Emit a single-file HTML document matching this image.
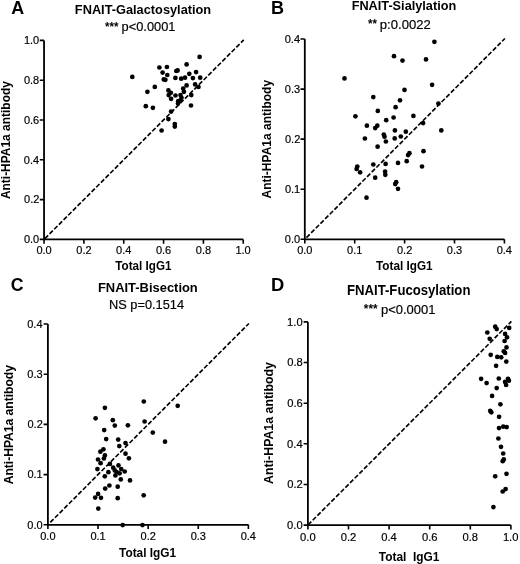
<!DOCTYPE html>
<html><head><meta charset="utf-8"><style>
html,body{margin:0;padding:0;background:#fff;}
svg{display:block;filter:grayscale(1);}
text{font-family:"Liberation Sans", sans-serif;fill:#000;}
text[font-weight="normal"]{stroke:#000;stroke-width:0.18px;}
</style></head><body>
<svg width="520" height="564" viewBox="0 0 520 564">
<rect width="520" height="564" fill="#fff"/>
<path d="M44.05,40.40 V239.40 H243.25" fill="none" stroke="#000" stroke-width="1.8"/>
<path d="M44.05,239.40 v4.3 M44.05,239.40 h-4.3 M83.89,239.40 v4.3 M44.05,199.60 h-4.3 M123.73,239.40 v4.3 M44.05,159.80 h-4.3 M163.57,239.40 v4.3 M44.05,120.00 h-4.3 M203.41,239.40 v4.3 M44.05,80.20 h-4.3 M243.25,239.40 v4.3 M44.05,40.40 h-4.3" fill="none" stroke="#000" stroke-width="1.6"/>
<line x1="243.75" y1="39.90" x2="44.05" y2="239.40" stroke="#000" stroke-width="1.65" stroke-dasharray="4.6 2.0" stroke-dashoffset="0.71"/>
<text x="23.89" y="243.25" font-size="11.00" font-weight="normal">0.0</text>
<text x="36.38" y="254.30" font-size="11.00" font-weight="normal">0.0</text>
<text x="24.06" y="203.45" font-size="11.00" font-weight="normal">0.2</text>
<text x="76.30" y="254.30" font-size="11.00" font-weight="normal">0.2</text>
<text x="23.84" y="163.65" font-size="11.00" font-weight="normal">0.4</text>
<text x="116.03" y="254.30" font-size="11.00" font-weight="normal">0.4</text>
<text x="23.95" y="123.85" font-size="11.00" font-weight="normal">0.6</text>
<text x="155.92" y="254.30" font-size="11.00" font-weight="normal">0.6</text>
<text x="23.95" y="84.05" font-size="11.00" font-weight="normal">0.8</text>
<text x="195.77" y="254.30" font-size="11.00" font-weight="normal">0.8</text>
<text x="23.89" y="44.25" font-size="11.00" font-weight="normal">1.0</text>
<text x="235.38" y="254.30" font-size="11.00" font-weight="normal">1.0</text>
<circle cx="132.3" cy="76.9" r="2.35"/>
<circle cx="159.4" cy="67.5" r="2.35"/>
<circle cx="166.9" cy="67.0" r="2.35"/>
<circle cx="162.6" cy="72.6" r="2.35"/>
<circle cx="167.3" cy="75.0" r="2.35"/>
<circle cx="163.8" cy="79.4" r="2.35"/>
<circle cx="165.4" cy="79.8" r="2.35"/>
<circle cx="154.8" cy="86.9" r="2.35"/>
<circle cx="147.4" cy="91.8" r="2.35"/>
<circle cx="199.6" cy="56.9" r="2.35"/>
<circle cx="186.6" cy="64.4" r="2.35"/>
<circle cx="176.3" cy="71.0" r="2.35"/>
<circle cx="177.6" cy="70.4" r="2.35"/>
<circle cx="196.1" cy="72.1" r="2.35"/>
<circle cx="189.3" cy="73.8" r="2.35"/>
<circle cx="175.4" cy="77.9" r="2.35"/>
<circle cx="181.2" cy="78.7" r="2.35"/>
<circle cx="185.0" cy="77.7" r="2.35"/>
<circle cx="192.9" cy="78.1" r="2.35"/>
<circle cx="200.2" cy="77.7" r="2.35"/>
<circle cx="186.6" cy="85.4" r="2.35"/>
<circle cx="195.1" cy="84.4" r="2.35"/>
<circle cx="198.5" cy="87.0" r="2.35"/>
<circle cx="183.2" cy="88.6" r="2.35"/>
<circle cx="183.9" cy="91.8" r="2.35"/>
<circle cx="168.4" cy="90.4" r="2.35"/>
<circle cx="170.8" cy="92.8" r="2.35"/>
<circle cx="168.7" cy="95.1" r="2.35"/>
<circle cx="175.5" cy="95.5" r="2.35"/>
<circle cx="180.5" cy="95.1" r="2.35"/>
<circle cx="181.5" cy="97.8" r="2.35"/>
<circle cx="171.1" cy="98.8" r="2.35"/>
<circle cx="178.2" cy="101.2" r="2.35"/>
<circle cx="180.5" cy="100.3" r="2.35"/>
<circle cx="178.0" cy="103.5" r="2.35"/>
<circle cx="191.3" cy="95.1" r="2.35"/>
<circle cx="191.0" cy="105.5" r="2.35"/>
<circle cx="171.1" cy="111.6" r="2.35"/>
<circle cx="168.4" cy="119.1" r="2.35"/>
<circle cx="174.8" cy="124.0" r="2.35"/>
<circle cx="174.8" cy="126.6" r="2.35"/>
<circle cx="161.6" cy="130.5" r="2.35"/>
<circle cx="145.8" cy="106.2" r="2.35"/>
<circle cx="152.9" cy="107.8" r="2.35"/>
<text transform="translate(11.35,13.70) scale(0.9950,1)" font-size="18.00" font-weight="bold">A</text>
<text transform="translate(74.87,13.80) scale(0.9595,1)" font-size="13.33" font-weight="bold">FNAIT-Galactosylation</text>
<text transform="translate(105.04,31.00) scale(0.9316,1)" font-size="12.40" font-weight="bold">***</text>
<text transform="translate(121.57,31.20) scale(1.0065,1)" font-size="12.75" font-weight="normal">p&lt;0.0001</text>
<text transform="translate(9.60,199.10) rotate(-90) scale(0.9976,1)" font-size="12.00" font-weight="bold">Anti-HPA1a antibody</text>
<text transform="translate(115.28,270.10) scale(0.9728,1)" font-size="12.00" font-weight="bold">Total IgG1</text>
<path d="M304.80,39.00 V239.30 H504.40" fill="none" stroke="#000" stroke-width="1.8"/>
<path d="M304.80,239.30 v4.3 M304.80,239.30 h-4.3 M354.70,239.30 v4.3 M304.80,189.23 h-4.3 M404.60,239.30 v4.3 M304.80,139.15 h-4.3 M454.50,239.30 v4.3 M304.80,89.08 h-4.3 M504.40,239.30 v4.3 M304.80,39.00 h-4.3" fill="none" stroke="#000" stroke-width="1.6"/>
<line x1="504.90" y1="38.50" x2="304.80" y2="239.30" stroke="#000" stroke-width="1.65" stroke-dasharray="4.6 2.0" stroke-dashoffset="0.71"/>
<text x="284.80" y="243.15" font-size="11.00" font-weight="normal">0.0</text>
<text x="297.13" y="254.30" font-size="11.00" font-weight="normal">0.0</text>
<text x="284.90" y="193.08" font-size="11.00" font-weight="normal">0.1</text>
<text x="347.08" y="254.30" font-size="11.00" font-weight="normal">0.1</text>
<text x="284.96" y="143.00" font-size="11.00" font-weight="normal">0.2</text>
<text x="397.01" y="254.30" font-size="11.00" font-weight="normal">0.2</text>
<text x="284.85" y="92.93" font-size="11.00" font-weight="normal">0.3</text>
<text x="446.86" y="254.30" font-size="11.00" font-weight="normal">0.3</text>
<text x="284.74" y="42.85" font-size="11.00" font-weight="normal">0.4</text>
<text x="496.70" y="254.30" font-size="11.00" font-weight="normal">0.4</text>
<circle cx="434.4" cy="41.8" r="2.35"/>
<circle cx="394.0" cy="56.2" r="2.35"/>
<circle cx="402.5" cy="60.6" r="2.35"/>
<circle cx="426.0" cy="59.4" r="2.35"/>
<circle cx="344.5" cy="78.4" r="2.35"/>
<circle cx="432.1" cy="84.8" r="2.35"/>
<circle cx="404.5" cy="89.9" r="2.35"/>
<circle cx="373.3" cy="97.1" r="2.35"/>
<circle cx="400.0" cy="100.3" r="2.35"/>
<circle cx="438.4" cy="103.6" r="2.35"/>
<circle cx="395.6" cy="107.2" r="2.35"/>
<circle cx="377.8" cy="110.9" r="2.35"/>
<circle cx="355.4" cy="116.3" r="2.35"/>
<circle cx="413.4" cy="115.9" r="2.35"/>
<circle cx="393.6" cy="117.5" r="2.35"/>
<circle cx="386.2" cy="120.2" r="2.35"/>
<circle cx="423.1" cy="123.1" r="2.35"/>
<circle cx="366.9" cy="125.7" r="2.35"/>
<circle cx="377.3" cy="125.7" r="2.35"/>
<circle cx="375.2" cy="128.1" r="2.35"/>
<circle cx="441.3" cy="130.4" r="2.35"/>
<circle cx="394.9" cy="130.4" r="2.35"/>
<circle cx="405.8" cy="131.7" r="2.35"/>
<circle cx="383.8" cy="134.5" r="2.35"/>
<circle cx="384.5" cy="136.7" r="2.35"/>
<circle cx="400.8" cy="136.5" r="2.35"/>
<circle cx="394.7" cy="138.4" r="2.35"/>
<circle cx="364.9" cy="138.5" r="2.35"/>
<circle cx="385.9" cy="141.5" r="2.35"/>
<circle cx="377.6" cy="146.7" r="2.35"/>
<circle cx="409.4" cy="153.2" r="2.35"/>
<circle cx="408.1" cy="155.1" r="2.35"/>
<circle cx="423.5" cy="151.2" r="2.35"/>
<circle cx="406.7" cy="161.2" r="2.35"/>
<circle cx="398.0" cy="162.9" r="2.35"/>
<circle cx="385.6" cy="163.9" r="2.35"/>
<circle cx="373.3" cy="164.5" r="2.35"/>
<circle cx="357.3" cy="166.5" r="2.35"/>
<circle cx="356.6" cy="169.0" r="2.35"/>
<circle cx="360.1" cy="172.3" r="2.35"/>
<circle cx="422.0" cy="166.5" r="2.35"/>
<circle cx="385.1" cy="171.7" r="2.35"/>
<circle cx="385.3" cy="174.8" r="2.35"/>
<circle cx="375.2" cy="177.7" r="2.35"/>
<circle cx="396.2" cy="182.2" r="2.35"/>
<circle cx="395.2" cy="184.1" r="2.35"/>
<circle cx="398.0" cy="188.8" r="2.35"/>
<circle cx="366.5" cy="197.7" r="2.35"/>
<text transform="translate(270.93,13.50) scale(1.0018,1)" font-size="18.00" font-weight="bold">B</text>
<text transform="translate(351.67,10.40) scale(0.9546,1)" font-size="13.33" font-weight="bold">FNAIT-Sialylation</text>
<text transform="translate(367.94,28.40) scale(0.9070,1)" font-size="12.60" font-weight="bold">**</text>
<text transform="translate(379.85,28.70) scale(1.0033,1)" font-size="13.04" font-weight="normal">p:0.0022</text>
<text transform="translate(270.50,198.50) rotate(-90) scale(1.0027,1)" font-size="12.00" font-weight="bold">Anti-HPA1a antibody</text>
<text transform="translate(375.98,270.10) scale(0.9815,1)" font-size="12.00" font-weight="bold">Total IgG1</text>
<path d="M47.90,324.00 V524.80 H248.40" fill="none" stroke="#000" stroke-width="1.8"/>
<path d="M47.90,524.80 v4.3 M47.90,524.80 h-4.3 M98.03,524.80 v4.3 M47.90,474.60 h-4.3 M148.15,524.80 v4.3 M47.90,424.40 h-4.3 M198.28,524.80 v4.3 M47.90,374.20 h-4.3 M248.40,524.80 v4.3 M47.90,324.00 h-4.3" fill="none" stroke="#000" stroke-width="1.6"/>
<line x1="248.90" y1="323.50" x2="47.90" y2="524.80" stroke="#000" stroke-width="1.65" stroke-dasharray="4.6 2.0" stroke-dashoffset="0.71"/>
<text x="27.30" y="528.65" font-size="11.00" font-weight="normal">0.0</text>
<text x="40.23" y="540.20" font-size="11.00" font-weight="normal">0.0</text>
<text x="27.41" y="478.45" font-size="11.00" font-weight="normal">0.1</text>
<text x="90.41" y="540.20" font-size="11.00" font-weight="normal">0.1</text>
<text x="27.46" y="428.25" font-size="11.00" font-weight="normal">0.2</text>
<text x="140.56" y="540.20" font-size="11.00" font-weight="normal">0.2</text>
<text x="27.35" y="378.05" font-size="11.00" font-weight="normal">0.3</text>
<text x="190.63" y="540.20" font-size="11.00" font-weight="normal">0.3</text>
<text x="27.24" y="327.85" font-size="11.00" font-weight="normal">0.4</text>
<text x="240.70" y="540.20" font-size="11.00" font-weight="normal">0.4</text>
<circle cx="104.9" cy="407.8" r="2.35"/>
<circle cx="95.6" cy="418.3" r="2.35"/>
<circle cx="112.8" cy="420.2" r="2.35"/>
<circle cx="114.8" cy="425.6" r="2.35"/>
<circle cx="127.9" cy="425.3" r="2.35"/>
<circle cx="104.2" cy="430.1" r="2.35"/>
<circle cx="106.2" cy="439.1" r="2.35"/>
<circle cx="118.2" cy="439.6" r="2.35"/>
<circle cx="125.5" cy="443.1" r="2.35"/>
<circle cx="119.3" cy="446.1" r="2.35"/>
<circle cx="143.8" cy="401.5" r="2.35"/>
<circle cx="144.6" cy="421.5" r="2.35"/>
<circle cx="177.7" cy="405.8" r="2.35"/>
<circle cx="152.8" cy="432.6" r="2.35"/>
<circle cx="165.0" cy="441.7" r="2.35"/>
<circle cx="103.4" cy="449.3" r="2.35"/>
<circle cx="100.4" cy="451.7" r="2.35"/>
<circle cx="104.9" cy="455.4" r="2.35"/>
<circle cx="103.9" cy="458.5" r="2.35"/>
<circle cx="98.0" cy="459.5" r="2.35"/>
<circle cx="100.6" cy="463.2" r="2.35"/>
<circle cx="125.5" cy="453.7" r="2.35"/>
<circle cx="128.9" cy="458.3" r="2.35"/>
<circle cx="109.9" cy="463.9" r="2.35"/>
<circle cx="118.5" cy="465.4" r="2.35"/>
<circle cx="97.4" cy="469.1" r="2.35"/>
<circle cx="113.2" cy="467.7" r="2.35"/>
<circle cx="114.8" cy="470.4" r="2.35"/>
<circle cx="116.7" cy="472.0" r="2.35"/>
<circle cx="119.6" cy="473.3" r="2.35"/>
<circle cx="121.2" cy="469.0" r="2.35"/>
<circle cx="124.7" cy="471.5" r="2.35"/>
<circle cx="108.4" cy="472.2" r="2.35"/>
<circle cx="115.4" cy="475.4" r="2.35"/>
<circle cx="104.8" cy="476.3" r="2.35"/>
<circle cx="120.8" cy="479.4" r="2.35"/>
<circle cx="130.0" cy="480.4" r="2.35"/>
<circle cx="109.4" cy="485.5" r="2.35"/>
<circle cx="105.2" cy="488.6" r="2.35"/>
<circle cx="117.7" cy="486.7" r="2.35"/>
<circle cx="98.1" cy="493.9" r="2.35"/>
<circle cx="95.2" cy="497.6" r="2.35"/>
<circle cx="101.0" cy="497.8" r="2.35"/>
<circle cx="117.7" cy="498.2" r="2.35"/>
<circle cx="143.7" cy="495.3" r="2.35"/>
<circle cx="98.3" cy="508.6" r="2.35"/>
<circle cx="122.7" cy="525.1" r="2.35"/>
<circle cx="142.5" cy="525.1" r="2.35"/>
<text transform="translate(10.79,291.30) scale(0.9839,1)" font-size="18.00" font-weight="bold">C</text>
<text transform="translate(97.96,292.00) scale(1.0384,1)" font-size="12.46" font-weight="bold">FNAIT-Bisection</text>
<text transform="translate(108.98,308.80) scale(1.0041,1)" font-size="12.75" font-weight="normal">NS p=0.1514</text>
<text transform="translate(13.40,484.30) rotate(-90) scale(1.0078,1)" font-size="12.00" font-weight="bold">Anti-HPA1a antibody</text>
<text transform="translate(119.08,556.60) scale(0.9868,1)" font-size="12.00" font-weight="bold">Total IgG1</text>
<path d="M307.90,321.90 V525.10 H510.90" fill="none" stroke="#000" stroke-width="1.8"/>
<path d="M307.90,525.10 v4.3 M307.90,525.10 h-4.3 M348.50,525.10 v4.3 M307.90,484.46 h-4.3 M389.10,525.10 v4.3 M307.90,443.82 h-4.3 M429.70,525.10 v4.3 M307.90,403.18 h-4.3 M470.30,525.10 v4.3 M307.90,362.54 h-4.3 M510.90,525.10 v4.3 M307.90,321.90 h-4.3" fill="none" stroke="#000" stroke-width="1.6"/>
<line x1="511.40" y1="321.40" x2="307.90" y2="525.10" stroke="#000" stroke-width="1.65" stroke-dasharray="4.6 2.0" stroke-dashoffset="0.71"/>
<text x="287.12" y="529.02" font-size="11.20" font-weight="normal">0.0</text>
<text x="300.09" y="540.74" font-size="11.20" font-weight="normal">0.0</text>
<text x="287.29" y="488.38" font-size="11.20" font-weight="normal">0.2</text>
<text x="340.77" y="540.74" font-size="11.20" font-weight="normal">0.2</text>
<text x="287.07" y="447.74" font-size="11.20" font-weight="normal">0.4</text>
<text x="381.26" y="540.74" font-size="11.20" font-weight="normal">0.4</text>
<text x="287.18" y="407.10" font-size="11.20" font-weight="normal">0.6</text>
<text x="421.92" y="540.74" font-size="11.20" font-weight="normal">0.6</text>
<text x="287.18" y="366.46" font-size="11.20" font-weight="normal">0.8</text>
<text x="462.52" y="540.74" font-size="11.20" font-weight="normal">0.8</text>
<text x="287.12" y="325.82" font-size="11.20" font-weight="normal">1.0</text>
<text x="502.89" y="540.74" font-size="11.20" font-weight="normal">1.0</text>
<circle cx="495.2" cy="326.7" r="2.35"/>
<circle cx="496.7" cy="329.1" r="2.35"/>
<circle cx="509.2" cy="327.9" r="2.35"/>
<circle cx="487.3" cy="332.5" r="2.35"/>
<circle cx="505.1" cy="333.9" r="2.35"/>
<circle cx="507.0" cy="337.3" r="2.35"/>
<circle cx="504.6" cy="341.0" r="2.35"/>
<circle cx="489.7" cy="338.8" r="2.35"/>
<circle cx="506.5" cy="347.4" r="2.35"/>
<circle cx="503.8" cy="351.3" r="2.35"/>
<circle cx="505.1" cy="352.9" r="2.35"/>
<circle cx="490.7" cy="354.8" r="2.35"/>
<circle cx="497.3" cy="356.9" r="2.35"/>
<circle cx="501.2" cy="357.3" r="2.35"/>
<circle cx="506.3" cy="361.6" r="2.35"/>
<circle cx="496.1" cy="365.8" r="2.35"/>
<circle cx="481.1" cy="378.8" r="2.35"/>
<circle cx="486.6" cy="383.1" r="2.35"/>
<circle cx="498.8" cy="378.5" r="2.35"/>
<circle cx="508.0" cy="378.8" r="2.35"/>
<circle cx="508.9" cy="380.7" r="2.35"/>
<circle cx="505.1" cy="381.9" r="2.35"/>
<circle cx="506.1" cy="385.0" r="2.35"/>
<circle cx="496.7" cy="388.1" r="2.35"/>
<circle cx="492.1" cy="395.9" r="2.35"/>
<circle cx="500.4" cy="404.3" r="2.35"/>
<circle cx="490.2" cy="410.8" r="2.35"/>
<circle cx="491.3" cy="412.3" r="2.35"/>
<circle cx="499.1" cy="416.8" r="2.35"/>
<circle cx="499.0" cy="428.1" r="2.35"/>
<circle cx="503.2" cy="426.7" r="2.35"/>
<circle cx="506.7" cy="427.1" r="2.35"/>
<circle cx="498.4" cy="438.5" r="2.35"/>
<circle cx="501.0" cy="446.8" r="2.35"/>
<circle cx="503.2" cy="453.5" r="2.35"/>
<circle cx="503.8" cy="459.4" r="2.35"/>
<circle cx="502.7" cy="461.2" r="2.35"/>
<circle cx="506.5" cy="473.8" r="2.35"/>
<circle cx="495.2" cy="476.3" r="2.35"/>
<circle cx="505.6" cy="489.1" r="2.35"/>
<circle cx="502.7" cy="491.5" r="2.35"/>
<circle cx="493.4" cy="507.1" r="2.35"/>
<text transform="translate(270.91,291.20) scale(1.0208,1)" font-size="18.00" font-weight="bold">D</text>
<text transform="translate(347.04,294.60) scale(0.9264,1)" font-size="14.20" font-weight="bold">FNAIT-Fucosylation</text>
<text transform="translate(363.84,313.40) scale(0.9373,1)" font-size="12.60" font-weight="bold">***</text>
<text transform="translate(380.95,314.00) scale(0.9756,1)" font-size="13.33" font-weight="normal">p&lt;0.0001</text>
<text transform="translate(272.60,483.91) rotate(-90) scale(1.0138,1)" font-size="12.20" font-weight="bold">Anti-HPA1a antibody</text>
<text transform="translate(378.78,560.50) scale(0.9778,1)" font-size="12.20" font-weight="bold">Total &#160;IgG1</text>
</svg>
</body></html>
